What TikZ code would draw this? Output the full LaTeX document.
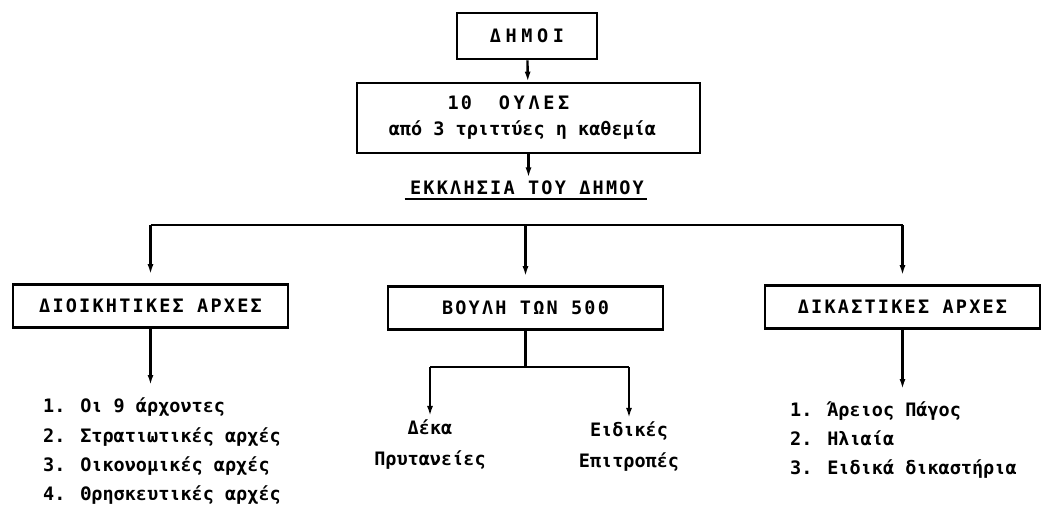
\documentclass[tikz,border=0pt]{standalone}
\usepackage{fontspec}
\usetikzlibrary{arrows.meta}
\newfontfamily\listfont{DejaVu Sans Mono}
\newfontfamily\capsfont[LetterSpace=12]{DejaVu Sans Mono}

\begin{document}
\begin{tikzpicture}[x=1pt, y=-1pt,
    box/.style={draw, line width=2.6pt, minimum width=275pt, minimum height=43pt,
      font=\capsfont\bfseries\fontsize{18.5}{26}\selectfont},
    item/.style={anchor=base west, inner sep=0pt, font=\listfont\bfseries\fontsize{18.5}{30}\selectfont},
    sub/.style={align=center, inner sep=0pt, font=\listfont\bfseries\fontsize{18.5}{31}\selectfont},
    ln/.style={line width=2.4pt},
    arr/.style={line width=2.4pt, -{Latex[length=10pt,width=6pt]}}]
  \useasboundingbox (0,0) rectangle (1045,507);

  % top of the chart
  \node[box, minimum width=140pt, minimum height=46pt] (demoi) at (527,36)
    {\addfontfeature{LetterSpace=25}ΔΗΜΟΙ};
  \node[box, minimum width=343pt, minimum height=70pt, align=center] (fyles) at (528.5,118)
    {10\ \ {\addfontfeature{LetterSpace=20}ΟΥΛΕΣ}\hspace*{40pt}\\{\listfont από 3 τριττύες η καθεμία}\hspace*{12pt}};
  \node[font=\capsfont\bfseries\fontsize{18.5}{22}\selectfont] (ekkl) at (527,188)
    {ΕΚΚΛΗΣΙΑ ΤΟΥ ΔΗΜΟΥ};
  \draw[ln] ([xshift=-2pt,yshift=-4pt]ekkl.base west) -- ([yshift=-4pt]ekkl.base east);
  \draw[arr] (demoi) -- (fyles);
  \draw[arr] (fyles.south) -- (fyles.south |- ekkl.north);

  % the three branches
  \node[box] (dioik)  at (150.5,306) {ΔΙΟΙΚΗΤΙΚΕΣ ΑΡΧΕΣ};
  \node[box] (boule)  at (525.5,308) {ΒΟΥΛΗ ΤΩΝ 500};
  \node[box] (dikast) at (902.5,307) {ΔΙΚΑΣΤΙΚΕΣ ΑΡΧΕΣ};
  \coordinate (bar) at (527,225);
  \draw[ln] (bar -| dioik.north) -- (bar -| dikast.north);
  \foreach \n in {dioik,boule,dikast}
    \draw[arr, shorten >=9pt] (bar -| \n.north) -- (\n.north);

  % administrative authorities
  \node[item] (l1) at (43,412) {1. Οι 9 άρχοντες};
  \node[item] (l2) at (43,442) {2. Στρατιωτικές αρχές};
  \node[item] (l3) at (43,471) {3. Οικονομικές αρχές};
  \node[item] (l4) at (43,500) {4. Θρησκευτικές αρχές};
  \draw[arr] (dioik.south) -- ([yshift=27pt]dioik.south |- l1.base);

  % council of 500
  \node[sub] (deka) at (430,445) {Δέκα\\Πρυτανείες};
  \node[sub] (eidikes) at (629,447) {Ειδικές\\Επιτροπές};
  \coordinate (split) at (525.5,367);
  \draw[ln] (boule.south) -- (split);
  \draw[ln] (split -| deka.north) -- (split -| eidikes.north);
  \draw[arr, shorten >=4pt] (split -| deka.north) -- (deka.north);
  \draw[arr, shorten >=4pt] (split -| eidikes.north) -- (eidikes.north);

  % judicial authorities
  \node[item] (r1) at (790,416) {1. Άρειος Πάγος};
  \node[item] (r2) at (790,445) {2. Ηλιαία};
  \node[item] (r3) at (790,474) {3. Ειδικά δικαστήρια};
  \draw[arr] (dikast.south) -- ([yshift=27pt]dikast.south |- r1.base);
\end{tikzpicture}
\end{document}
